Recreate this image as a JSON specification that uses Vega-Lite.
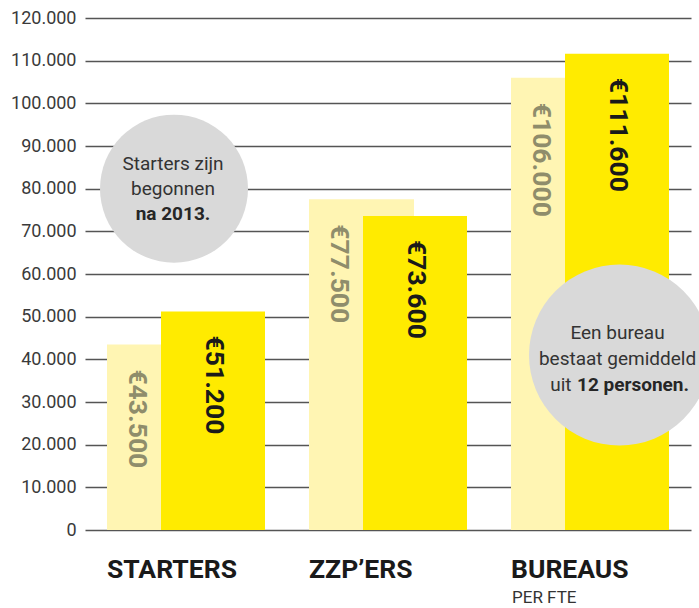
{
  "$schema": "https://vega.github.io/schema/vega-lite/v6.json",
  "width": 602,
  "height": 512,
  "autosize": "none",
  "padding": {"left": 88, "top": 18, "right": 9, "bottom": 78},
  "background": "white",
  "config": {"view": {"stroke": null}, "font": "Roboto"},
  "data": {
    "values": [
      {"soort": "licht", "categorie": "STARTERS", "waarde": 43500, "label": "€43.500"},
      {"soort": "geel", "categorie": "STARTERS", "waarde": 51200, "label": "€51.200"},
      {"soort": "licht", "categorie": "ZZP’ERS", "waarde": 77500, "label": "€77.500"},
      {"soort": "geel", "categorie": "ZZP’ERS", "waarde": 73600, "label": "€73.600"},
      {"soort": "licht", "categorie": "BUREAUS", "waarde": 106000, "label": "€106.000"},
      {"soort": "geel", "categorie": "BUREAUS", "waarde": 111600, "label": "€111.600"},
      {"soort": "noot", "categorie": "STARTERS", "waarde": 80000, "tekst": "Starters zijn\nbegonnen", "nadruk": "na 2013."},
      {"soort": "noot", "categorie": "BUREAUS", "waarde": 41000, "tekst": "Een bureau\nbestaat gemiddeld", "voor": "uit", "nadruk": "12 personen."},
      {"soort": "sub", "categorie": "BUREAUS", "waarde": 0, "tekst": "PER FTE"}
    ]
  },
  "encoding": {
    "x": {
      "field": "categorie",
      "type": "nominal",
      "sort": null,
      "title": null,
      "scale": {"domain": ["STARTERS", "ZZP’ERS", "BUREAUS"], "range": [-3, 603], "paddingInner": 0, "paddingOuter": 0},
      "axis": {
        "labelAngle": 0,
        "labelAlign": "left",
        "labelOffset": -79,
        "labelFont": "Roboto",
        "labelFontWeight": "bold",
        "labelFontSize": 26.5,
        "labelColor": "#1a1a1a",
        "labelBaseline": "alphabetic",
        "labelPadding": 47,
        "labelLimit": 0,
        "labelOverlap": false,
        "labelFlush": false,
        "ticks": false,
        "tickSize": 0,
        "domain": false,
        "grid": false
      }
    },
    "y": {
      "field": "waarde",
      "type": "quantitative",
      "title": null,
      "scale": {"domain": [0, 120000], "nice": false},
      "axis": {
        "values": [0, 10000, 20000, 30000, 40000, 50000, 60000, 70000, 80000, 90000, 100000, 110000, 120000],
        "labelExpr": "replace(format(datum.value, ','), ',', '.')",
        "grid": true,
        "gridColor": "#555555",
        "gridWidth": 1.5,
        "ticks": false,
        "domain": false,
        "labelFontSize": 18,
        "labelColor": "#3a3a3a",
        "labelPadding": 12
      }
    }
  },
  "layer": [
    {
      "transform": [{"filter": "datum.soort === 'licht'"}],
      "mark": {"type": "bar", "width": 105, "xOffset": -26.5, "color": "#fff5b3"}
    },
    {
      "transform": [{"filter": "datum.soort === 'geel'"}],
      "mark": {"type": "bar", "width": 104, "xOffset": 27, "color": "#ffeb00"}
    },
    {
      "transform": [{"filter": "datum.soort === 'licht'"}],
      "mark": {"type": "text", "angle": 90, "align": "left", "baseline": "middle", "dx": 25, "xOffset": -49, "font": "Roboto", "fontWeight": "bold", "fontSize": 26.5, "color": "#8f8d6b"},
      "encoding": {"text": {"field": "label", "type": "nominal"}}
    },
    {
      "transform": [{"filter": "datum.soort === 'geel'"}],
      "mark": {"type": "text", "angle": 90, "align": "left", "baseline": "middle", "dx": 24, "xOffset": 28, "font": "Roboto", "fontWeight": "bold", "fontSize": 26.5, "color": "#1a1a1a"},
      "encoding": {"text": {"field": "label", "type": "nominal"}}
    },
    {
      "transform": [{"filter": "datum.soort === 'noot' && datum.categorie === 'STARTERS'"}],
      "mark": {"type": "point", "shape": "circle", "filled": true, "size": 21904, "xOffset": -12, "color": "#d9d9d9", "opacity": 1}
    },
    {
      "transform": [{"filter": "datum.soort === 'noot' && datum.categorie === 'BUREAUS'"}],
      "mark": {"type": "point", "shape": "circle", "filled": true, "size": 32761, "xOffset": 29.5, "color": "#d9d9d9", "opacity": 1}
    },
    {
      "transform": [{"filter": "datum.soort === 'noot' && datum.categorie === 'STARTERS'"}],
      "mark": {"type": "text", "align": "center", "baseline": "alphabetic", "lineBreak": "\n", "lineHeight": 25, "xOffset": -13, "dy": -18.5, "fontSize": 19, "color": "#333333"},
      "encoding": {"text": {"field": "tekst", "type": "nominal"}}
    },
    {
      "transform": [{"filter": "datum.soort === 'noot' && datum.categorie === 'STARTERS'"}],
      "mark": {"type": "text", "align": "center", "baseline": "alphabetic", "xOffset": -13, "dy": 31.5, "fontSize": 19, "fontWeight": "bold", "color": "#262626"},
      "encoding": {"text": {"field": "nadruk", "type": "nominal"}}
    },
    {
      "transform": [{"filter": "datum.soort === 'noot' && datum.categorie === 'BUREAUS'"}],
      "mark": {"type": "text", "align": "center", "baseline": "alphabetic", "lineBreak": "\n", "lineHeight": 26.5, "xOffset": 27.5, "dy": -16.5, "fontSize": 19, "color": "#333333"},
      "encoding": {"text": {"field": "tekst", "type": "nominal"}}
    },
    {
      "transform": [{"filter": "datum.soort === 'noot' && datum.categorie === 'BUREAUS'"}],
      "mark": {"type": "text", "align": "right", "baseline": "alphabetic", "xOffset": -18.5, "dy": 36, "fontSize": 19, "color": "#333333"},
      "encoding": {"text": {"field": "voor", "type": "nominal"}}
    },
    {
      "transform": [{"filter": "datum.soort === 'noot' && datum.categorie === 'BUREAUS'"}],
      "mark": {"type": "text", "align": "left", "baseline": "alphabetic", "xOffset": -13, "dy": 36, "fontSize": 19, "fontWeight": "bold", "color": "#262626"},
      "encoding": {"text": {"field": "nadruk", "type": "nominal"}}
    },
    {
      "transform": [{"filter": "datum.soort === 'sub'"}],
      "mark": {"type": "text", "align": "left", "baseline": "alphabetic", "xOffset": -78, "dy": 73, "fontSize": 17, "color": "#333333"},
      "encoding": {"text": {"field": "tekst", "type": "nominal"}}
    }
  ]
}
